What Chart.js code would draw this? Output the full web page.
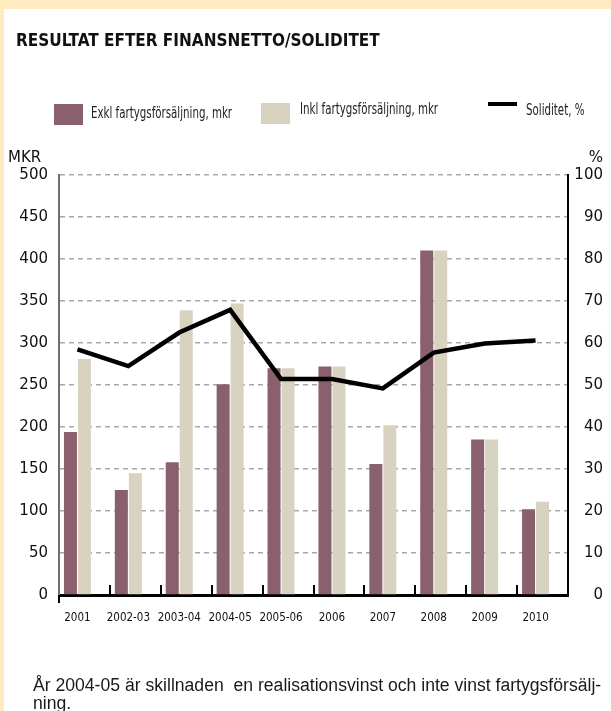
<!DOCTYPE html>
<html>
<head>
<meta charset="utf-8">
<script src="https://cdn.jsdelivr.net/npm/chart.js@4.4.1/dist/chart.umd.min.js"></script>
<style>
  html, body { margin: 0; padding: 0; }
  body { width: 611px; height: 711px; position: relative; overflow: hidden; background: #fff; }
  .band-top { position: absolute; left: 0; top: 0; width: 611px; height: 9px; background: #ffebbf; }
  .band-left { position: absolute; left: 0; top: 0; width: 4px; height: 711px; background: #ffebbf; }
  canvas { position: absolute; left: 0; top: 0; }
  .txt { position: absolute; white-space: nowrap; color: #111; }
  .narrow { font-family: "DejaVu Sans Condensed", "DejaVu Sans", sans-serif; transform-origin: 0 50%; }
  .title { left: 16px; top: 32px; font-size: 17px; line-height: 17px; font-weight: bold; }
  .leg { font-size: 15px; line-height: 15px; color: #222; transform: scaleX(0.76); }
  .swatch { position: absolute; }
  .axis-name { font-family: "DejaVu Sans", sans-serif; font-size: 15px; line-height: 15px; }
  .note { left: 33px; top: 676px; font-family: "Liberation Sans", Arial, sans-serif; font-size: 17.6px; line-height: 18px; color: #1a1a1a; }
</style>
</head>
<body>
<div class="band-top"></div>
<div class="band-left"></div>
<canvas id="chart" width="611" height="711"></canvas>

<div class="txt narrow title">RESULTAT EFTER FINANSNETTO/SOLIDITET</div>

<div class="swatch" style="left:54px;top:104px;width:29px;height:21px;background:#89606b"></div>
<div class="txt narrow leg" style="left:91px;top:106px">Exkl fartygsförsäljning, mkr</div>
<div class="swatch" style="left:261px;top:103px;width:29px;height:21px;background:#d8d3c1"></div>
<div class="txt narrow leg" style="left:300px;top:102px">Inkl fartygsförsäljning, mkr</div>
<div class="swatch" style="left:488px;top:102px;width:29px;height:4px;background:#000"></div>
<div class="txt narrow leg" style="left:526px;top:103px">Soliditet, %</div>

<div class="txt axis-name" style="left:8px;top:150px">MKR</div>
<div class="txt axis-name" style="right:8px;top:150px">%</div>

<div class="txt note">År 2004-05 är skillnaden&nbsp; en realisationsvinst och inte vinst fartygsförsälj-<br>ning.</div>

<script>
const years = ['2001', '2002-03', '2003-04', '2004-05', '2005-06', '2006', '2007', '2008', '2009', '2010'];
const exklValues = [194, 125, 158, 251, 270, 272, 156, 410, 185, 102];
const inklValues = [281, 145, 339, 347, 270, 272, 202, 410, 185, 111];
const soliditet = [58.5, 54.5, 62.5, 67.9, 51.4, 51.4, 49.2, 57.7, 59.9, 60.6];
const mkrTicks = { min: 0, max: 500, step: 50 };
const pctTicks = { min: 0, max: 100, step: 10 };

const mauve = '#89606b';
const beige = '#d8d3c1';

// the bar pairs (and the line) sit a little left of the middle of each year slot
const pairShift = 0.1375;

// short tick marks pointing up from the x axis between the years
const innerTicks = {
  id: 'innerTicks',
  afterDatasetsDraw(chart) {
    const xs = chart.scales.x;
    const ctx = chart.ctx;
    const bottom = chart.chartArea.bottom;
    ctx.save();
    ctx.strokeStyle = '#000';
    ctx.lineWidth = 2;
    ctx.beginPath();
    for (let i = 1; i < years.length; i++) {
      const x = Math.round(xs.getPixelForValue(i - 0.5 + pairShift));
      ctx.moveTo(x, bottom);
      ctx.lineTo(x, bottom - 10);
    }
    ctx.moveTo(xs.left, bottom);
    ctx.lineTo(xs.left, bottom + 8);
    ctx.stroke();
    ctx.restore();
  }
};

const toPoints = (arr) => arr.map((v, i) => ({ x: i, y: v }));

new Chart(document.getElementById('chart'), {
  type: 'bar',
  data: {
    datasets: [
      {
        label: 'Exkl fartygsförsäljning, mkr',
        data: toPoints(exklValues),
        backgroundColor: mauve,
        categoryPercentage: 0.55,
        barPercentage: 0.93,
        yAxisID: 'y', order: 1
      },
      {
        label: 'Inkl fartygsförsäljning, mkr',
        data: toPoints(inklValues),
        backgroundColor: beige,
        categoryPercentage: 0.55,
        barPercentage: 0.93,
        yAxisID: 'y', order: 1
      },
      {
        type: 'line',
        label: 'Soliditet, %',
        data: toPoints(soliditet),
        borderColor: '#000',
        borderWidth: 4.5,
        pointRadius: 0,
        tension: 0,
        yAxisID: 'y1', order: 0
      }
    ]
  },
  options: {
    responsive: false,
    animation: false,
    events: [],
    layout: { padding: { left: 0, right: 8, top: 175, bottom: 76 } },
    plugins: {
      legend: { display: false },
      tooltip: { enabled: false }
    },
    scales: {
      x: {
        type: 'linear',
        position: 'bottom',
        offset: false,
        bounds: 'data',
        min: -0.5 + pairShift,
        max: years.length - 0.5 + pairShift,
        afterBuildTicks: (s) => { s.ticks = years.map((_, i) => ({ value: i })); },
        afterFit: (s) => { s.height = 40; },
        ticks: {
          callback: (v) => years[v],
          font: { family: '"DejaVu Sans Condensed", sans-serif', size: 11.5 },
          color: '#111',
          padding: 16,
          maxRotation: 0,
          autoSkip: false
        },
        grid: { offset: false, drawOnChartArea: false, drawTicks: false },
        border: { color: '#000', width: 3 }
      },
      y: {
        position: 'left',
        min: mkrTicks.min,
        max: mkrTicks.max,
        afterFit: (s) => { s.width = 59; },
        ticks: {
          stepSize: mkrTicks.step,
          font: { family: '"DejaVu Sans", sans-serif', size: 15 },
          color: '#111',
          padding: 11
        },
        grid: { color: '#a8a8a8', lineWidth: 1.5, drawTicks: false },
        border: { color: '#6f6f6f', width: 2, dash: [5, 4] }
      },
      y1: {
        position: 'right',
        min: pctTicks.min,
        max: pctTicks.max,
        afterFit: (s) => { s.width = 35; },
        ticks: {
          stepSize: pctTicks.step,
          font: { family: '"DejaVu Sans", sans-serif', size: 15 },
          color: '#111',
          padding: 7,
          crossAlign: 'far'
        },
        grid: { drawOnChartArea: false, drawTicks: false },
        border: { color: '#000', width: 2 }
      }
    }
  },
  plugins: [innerTicks]
});
</script>
</body>
</html>
